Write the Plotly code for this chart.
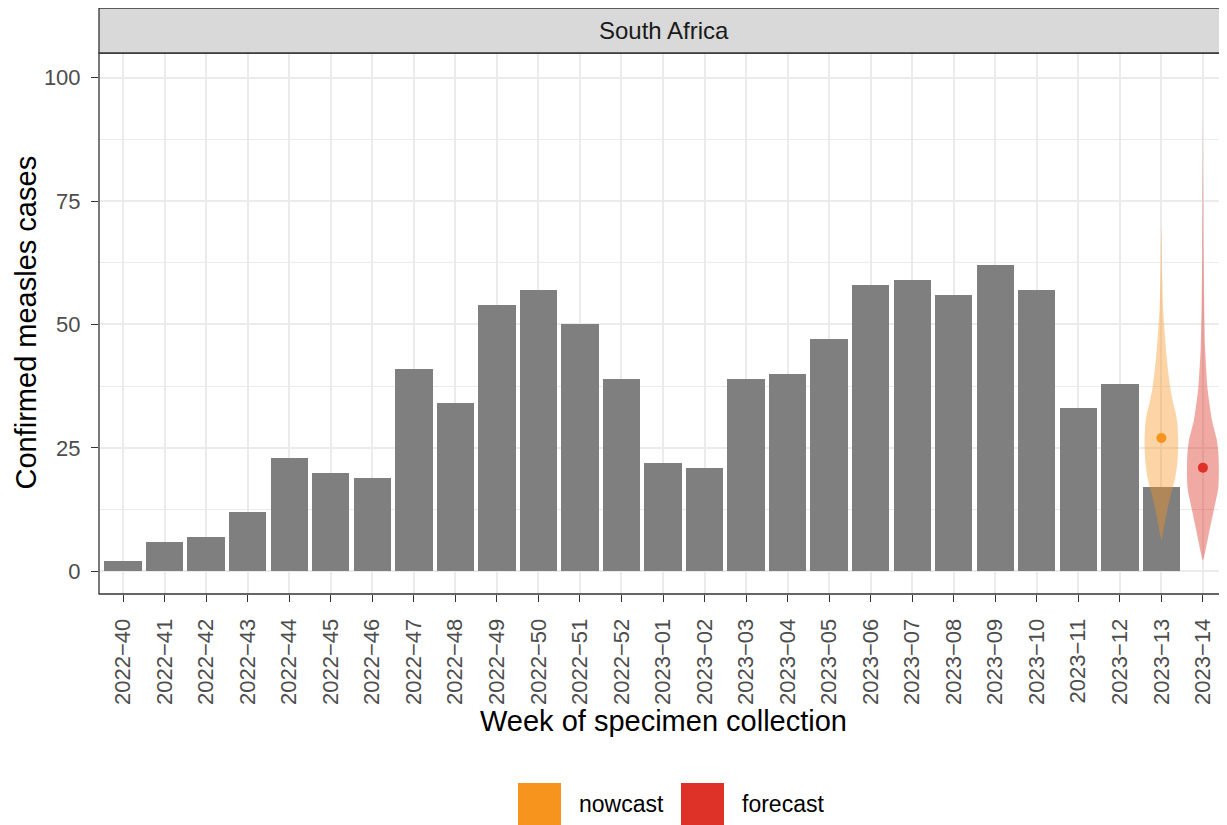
import plotly.graph_objects as go

# ---------------- data ----------------
weeks = ["2022\u221240", "2022\u221241", "2022\u221242", "2022\u221243", "2022\u221244", "2022\u221245",
         "2022\u221246", "2022\u221247", "2022\u221248", "2022\u221249", "2022\u221250", "2022\u221251",
         "2022\u221252", "2023\u221201", "2023\u221202", "2023\u221203", "2023\u221204", "2023\u221205",
         "2023\u221206", "2023\u221207", "2023\u221208", "2023\u221209", "2023\u221210", "2023\u221211",
         "2023\u221212", "2023\u221213", "2023\u221214"]
confirmed_cases = [2, 6, 7, 12, 23, 20, 19, 41, 34, 54, 57, 50, 39,
                   22, 21, 39, 40, 47, 58, 59, 56, 62, 57, 33, 38, 17]

nowcast_week = "2023\u221213"
nowcast_median = 27
nowcast_values = [6.3, 7.7, 10, 13, 16, 19, 22, 25, 27, 30, 32, 34, 37, 40, 44, 47, 53, 60, 67, 70]
nowcast_density = [0, 0.09, 0.21, 0.39, 0.60, 0.83, 0.95, 1.0, 1.0, 0.95, 0.86, 0.71,
                   0.54, 0.42, 0.30, 0.23, 0.11, 0.05, 0.02, 0]

forecast_week = "2023\u221214"
forecast_median = 21
forecast_values = [2.2, 3.7, 7.7, 12.4, 17, 21, 24, 26.6, 28.6, 30.6, 34.7, 37.3, 45.4, 55.6, 65, 75, 85, 92]
forecast_density = [0, 0.12, 0.36, 0.65, 0.92, 0.95, 0.92, 0.83, 0.68, 0.54, 0.36, 0.27,
                    0.13, 0.07, 0.04, 0.024, 0.009, 0]

legend_labels = ["nowcast", "forecast"]

# ---------------- style ----------------
OFF = 8                      # page body margin of the html page
W, H = 1227 - OFF, 825 - OFF
L, R, T, B = 99 - OFF, 0, 53 - OFF, 231
PW, PH = W - L - R, H - T - B
FONT = "Liberation Sans, Arial, Helvetica, sans-serif"
BAR = "#7F7F7F"
ORANGE = "#F7941D"
RED = "#DE3127"
MAX_HALF = 0.404  # category units


def xp(px):
    """reference-screen pixel x -> paper"""
    return (px - OFF - L) / PW


def yp(py):
    """reference-screen pixel y -> paper"""
    return (H - B - (py - OFF)) / PH


xpos = {w: i for i, w in enumerate(weeks)}

fig = go.Figure()

fig.add_trace(go.Bar(
    x=[xpos[w] for w in weeks[:len(confirmed_cases)]], y=confirmed_cases,
    width=0.9, marker=dict(color=BAR, line=dict(width=0)), showlegend=False, hoverinfo="y"))


def violin(center, vals, dens, color_rgba):
    xs = [center + d * MAX_HALF for d in dens] + [center - d * MAX_HALF for d in dens[::-1]]
    ys = list(vals) + list(vals[::-1])
    return go.Scatter(x=xs, y=ys, mode="lines", fill="toself", fillcolor=color_rgba,
                      line=dict(width=0, color=color_rgba, shape="spline", smoothing=0.6),
                      showlegend=False, hoverinfo="skip")


fig.add_trace(violin(xpos[nowcast_week], nowcast_values, nowcast_density, "rgba(247,148,29,0.4)"))
fig.add_trace(violin(xpos[forecast_week], forecast_values, forecast_density, "rgba(222,49,39,0.42)"))

fig.add_trace(go.Scatter(x=[xpos[nowcast_week]], y=[nowcast_median], mode="markers",
                         marker=dict(color=ORANGE, size=10), showlegend=False))
fig.add_trace(go.Scatter(x=[xpos[forecast_week]], y=[forecast_median], mode="markers",
                         marker=dict(color=RED, size=10), showlegend=False))

shapes = [
    # panel border
    dict(type="rect", xref="paper", yref="paper", x0=0, x1=1, y0=0, y1=1,
         line=dict(color="#333333", width=1.3), layer="above"),
    # strip
    dict(type="rect", xref="paper", yref="paper", x0=0, x1=1, y0=yp(53), y1=yp(8),
         fillcolor="#D9D9D9", line=dict(color="#333333", width=1.3)),
    # legend keys
    dict(type="rect", xref="paper", yref="paper", x0=xp(518), x1=xp(561), y0=yp(826), y1=yp(783),
         fillcolor=ORANGE, line=dict(width=0)),
    dict(type="rect", xref="paper", yref="paper", x0=xp(681), x1=xp(724), y0=yp(826), y1=yp(783),
         fillcolor=RED, line=dict(width=0)),
]

annotations = [
    dict(text="South Africa", xref="paper", yref="paper", x=xp(663.5), y=yp(30.5), showarrow=False,
         xanchor="center", yanchor="middle", font=dict(family=FONT, size=24, color="#1A1A1A")),
    dict(text="Week of specimen collection", xref="paper", yref="paper", x=xp(663), y=yp(721),
         showarrow=False, xanchor="center", yanchor="middle", font=dict(family=FONT, size=29, color="black")),
    dict(text="Confirmed measles cases", xref="paper", yref="paper", x=xp(25.5), y=yp(323), textangle=-90,
         showarrow=False, xanchor="center", yanchor="middle", font=dict(family=FONT, size=29, color="black")),
    dict(text=legend_labels[0], xref="paper", yref="paper", x=xp(577), y=yp(804), showarrow=False,
         xanchor="left", yanchor="middle", font=dict(family=FONT, size=23, color="black")),
    dict(text=legend_labels[1], xref="paper", yref="paper", x=xp(740), y=yp(804), showarrow=False,
         xanchor="left", yanchor="middle", font=dict(family=FONT, size=23, color="black")),
]

fig.update_layout(
    width=W, height=H,
    margin=dict(l=L, r=R, t=T, b=B, pad=0),
    paper_bgcolor="white", plot_bgcolor="white",
    font=dict(family=FONT),
    showlegend=False,
    shapes=shapes, annotations=annotations,
    bargap=0,
    xaxis=dict(
        range=[-0.58, 26.58], tickmode="array", tickvals=list(range(len(weeks))), ticktext=weeks,
        tickangle=-90, ticks="outside", ticklen=7, tickwidth=1.3, tickcolor="#333333",
        tickfont=dict(family=FONT, size=22, color="#4D4D4D"), ticklabelstandoff=8,
        showgrid=True, gridcolor="#EBEBEB", gridwidth=2, zeroline=False, showline=False,
        fixedrange=True),
    yaxis=dict(
        range=[-4.6, 105.0], tickmode="array", tickvals=[0, 25, 50, 75, 100],
        ticks="outside", ticklen=7, tickwidth=1.3, tickcolor="#333333",
        tickfont=dict(family=FONT, size=22, color="#4D4D4D"), ticklabelstandoff=6,
        showgrid=True, gridcolor="#EBEBEB", gridwidth=2, zeroline=False, showline=False,
        minor=dict(tickmode="array", tickvals=[12.5, 37.5, 62.5, 87.5], showgrid=True,
                   gridcolor="#EBEBEB", gridwidth=1, ticks=""),
        fixedrange=True),
)

fig.write_html("out.html")
